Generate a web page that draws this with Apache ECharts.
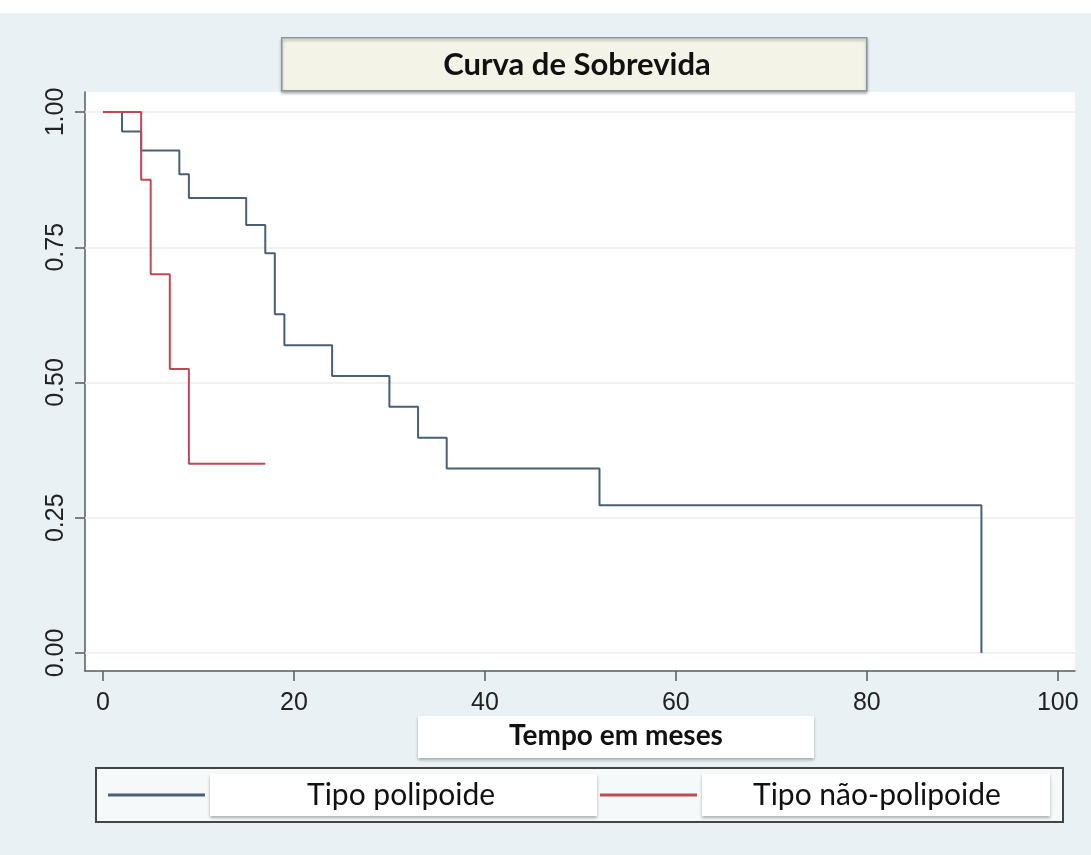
<!DOCTYPE html>
<html>
<head>
<meta charset="utf-8">
<title>Curva de Sobrevida</title>
<script src="https://cdn.jsdelivr.net/npm/echarts@6/dist/echarts.min.js"></script>
<style>
  html, body { margin: 0; padding: 0; background: #e9f1f4; }
  #main { width: 1091px; height: 855px; }
</style>
</head>
<body>
<div id="main"></div>
<script>
// tempo em meses e sobrevida estimada (Kaplan-Meier)
var tempoPolipoide = [0, 2, 4, 8, 9, 15, 17, 18, 19, 24, 30, 33, 36, 52, 92];
var sobrevidaPolipoide = [1, 0.964, 0.929, 0.885, 0.841, 0.791, 0.739, 0.626, 0.569, 0.512, 0.455, 0.398, 0.341, 0.273, 0];
var tempoNaoPolipoide = [0, 4, 5, 7, 9, 17];
var sobrevidaNaoPolipoide = [1, 0.875, 0.700, 0.525, 0.350, 0.350];
var ticksX = [0, 20, 40, 60, 80, 100];
var ticksY = [0, 0.25, 0.5, 0.75, 1];
var nomes = ['Tipo polipoide', 'Tipo não-polipoide'];

function pares(t, s) {
  return t.map(function (v, i) { return [v, s[i]]; });
}

var corAzul = '#4a5f73';
var corVermelho = '#be4955';
var corEixo = '#555b60';

var chart = echarts.init(document.getElementById('main'));
var option = {
  backgroundColor: '#e9f1f4',
  animation: false,
  title: {
    text: 'Curva de Sobrevida',
    left: 572,
    top: 44,
    textAlign: 'center',
    textStyle: { fontFamily: 'Lato', fontWeight: 'bold', fontSize: 31, color: '#111' }
  },
  graphic: [
    // faixa branca no topo
    { type: 'rect', left: 0, top: 0, shape: { width: 1091, height: 13 }, style: { fill: '#fff' }, z: 0 },
    // caixa do titulo
    {
      type: 'rect', left: 281, top: 37, z: 0,
      shape: { width: 585, height: 53 },
      style: { fill: '#f3f4e7', stroke: '#8c969d', lineWidth: 1.5,
        shadowColor: 'rgba(0,0,0,0.3)', shadowBlur: 3, shadowOffsetY: 2 }
    },
    // caixa do titulo do eixo x
    {
      type: 'rect', left: 418, top: 716, z: 0,
      shape: { width: 396, height: 42 },
      style: { fill: '#fff', shadowColor: 'rgba(0,0,0,0.3)', shadowBlur: 3, shadowOffsetY: 2 }
    }
  ],
  grid: {
    left: 85, right: 16, top: 92, bottom: 184,
    show: true, backgroundColor: '#fff', borderWidth: 0
  },
  xAxis: {
    type: 'value',
    min: -1.88,
    max: 101.8,
    axisLine: { show: true, onZero: false, lineStyle: { color: corEixo, width: 1.5 } },
    axisTick: { show: true, customValues: ticksX, length: 10, lineStyle: { color: corEixo, width: 1.5 } },
    axisLabel: { customValues: ticksX, fontSize: 25, fontFamily: 'Liberation Sans', color: '#222', margin: 20 },
    splitLine: { show: false },
    name: 'Tempo em meses',
    nameLocation: 'middle',
    nameGap: 51,
    nameTextStyle: { fontFamily: 'Lato', fontWeight: 'bold', fontSize: 28, color: '#111', padding: [0, 0, 0, 72] }
  },
  yAxis: {
    type: 'value',
    min: -0.0333,
    max: 1.037,
    axisLine: { show: true, onZero: false, lineStyle: { color: corEixo, width: 1.5 } },
    axisTick: { show: true, customValues: ticksY, length: 10, lineStyle: { color: corEixo, width: 1.5 } },
    axisLabel: {
      customValues: ticksY, rotate: 90, fontSize: 25, fontFamily: 'Liberation Sans', color: '#222', margin: 16,
      formatter: function (v) { return v.toFixed(2); }
    },
    splitLine: { show: false }
  },
  legend: {
    data: [
      { name: nomes[0], textStyle: { width: 290, padding: [6, 0, 6, 97] } },
      { name: nomes[1], textStyle: { width: 297, padding: [6, 0, 6, 51] } }
    ],
    left: 96,
    top: 768,
    orient: 'horizontal',
    icon: 'rect',
    padding: [6, 13, 6, 12],
    borderColor: '#444',
    borderWidth: 2,
    backgroundColor: '#f6f9fa',
    itemWidth: 97,
    itemHeight: 3,
    itemGap: 3,
    textStyle: {
      fontFamily: 'Lato', fontSize: 30, color: '#111', backgroundColor: '#fff',
      shadowColor: 'rgba(0,0,0,0.3)', shadowBlur: 3, shadowOffsetY: 2
    }
  },
  series: [
    {
      name: 'grade',
      type: 'line',
      data: [],
      z: 1,
      markLine: {
        silent: true,
        z: 1,
        symbol: 'none',
        label: { show: false },
        lineStyle: { color: '#ececec', width: 1.5, type: 'solid' },
        data: ticksY.map(function (v) { return { yAxis: v }; })
      }
    },
    {
      name: nomes[0],
      type: 'line',
      step: 'end',
      data: pares(tempoPolipoide, sobrevidaPolipoide),
      symbol: 'none',
      showSymbol: false,
      z: 3,
      lineStyle: { color: corAzul, width: 2 },
      itemStyle: { color: corAzul }
    },
    {
      name: nomes[1],
      type: 'line',
      step: 'end',
      data: pares(tempoNaoPolipoide, sobrevidaNaoPolipoide),
      symbol: 'none',
      showSymbol: false,
      z: 4,
      lineStyle: { color: corVermelho, width: 2 },
      itemStyle: { color: corVermelho }
    }
  ]
};
chart.setOption(option);
</script>
</body>
</html>
